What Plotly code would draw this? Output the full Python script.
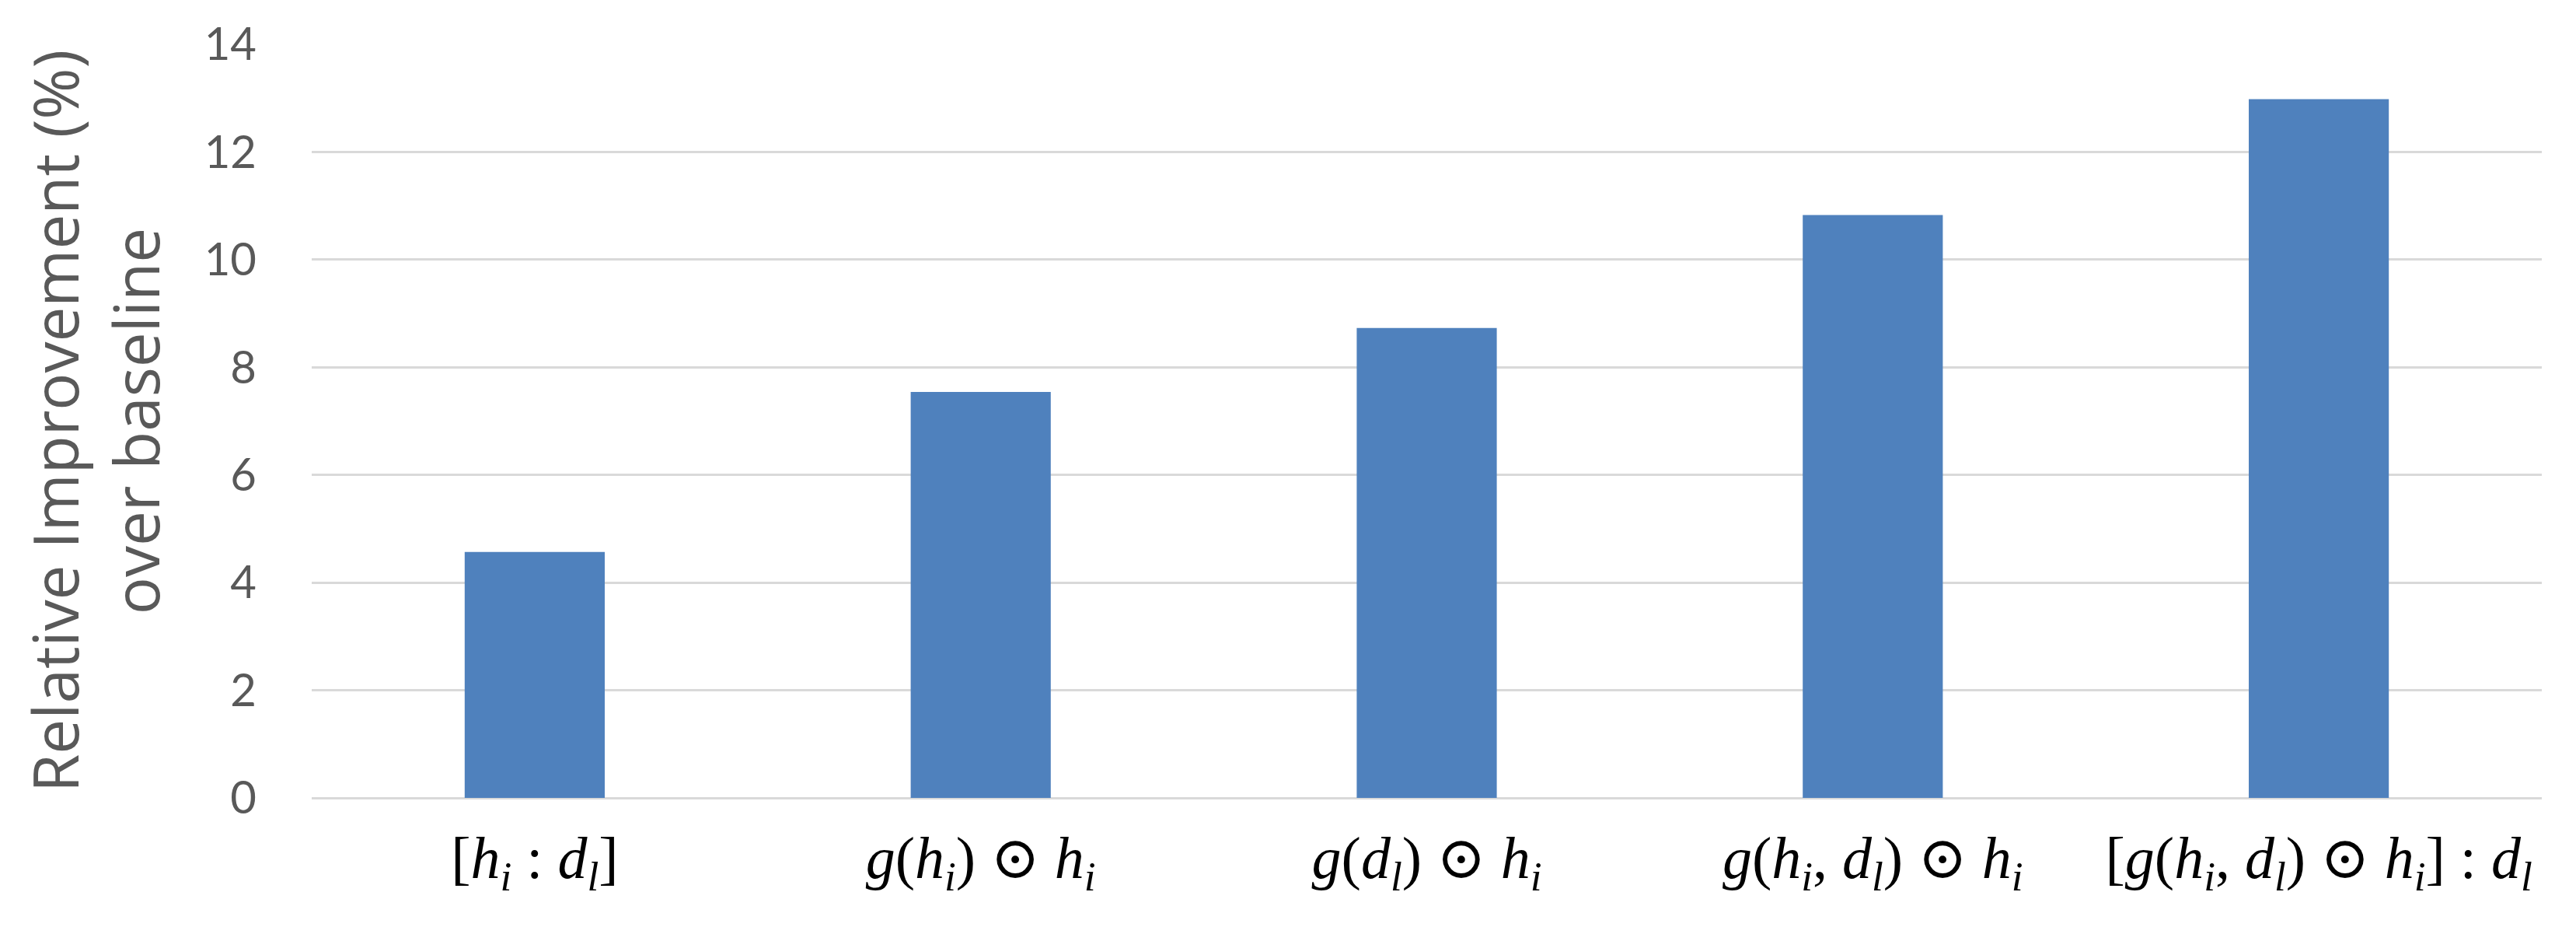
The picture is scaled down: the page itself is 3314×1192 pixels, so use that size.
import plotly.graph_objects as go

categories = [
    "[<i>h</i><sub><i>i</i></sub> : <i>d</i><sub><i>l</i></sub>]",
    "<i>g</i>(<i>h</i><sub><i>i</i></sub>) ⊙ <i>h</i><sub><i>i</i></sub>",
    "<i>g</i>(<i>d</i><sub><i>l</i></sub>) ⊙ <i>h</i><sub><i>i</i></sub>",
    "<i>g</i>(<i>h</i><sub><i>i</i></sub>, <i>d</i><sub><i>l</i></sub>) ⊙ <i>h</i><sub><i>i</i></sub>",
    "[<i>g</i>(<i>h</i><sub><i>i</i></sub>, <i>d</i><sub><i>l</i></sub>) ⊙ <i>h</i><sub><i>i</i></sub>] : <i>d</i><sub><i>l</i></sub>",
]
values = [4.57, 7.54, 8.73, 10.83, 12.98]
y_ticks = [0, 2, 4, 6, 8, 10, 12, 14]

fig = go.Figure()
fig.add_trace(go.Bar(
    x=list(range(len(categories))),
    y=values,
    marker=dict(color="#4F81BD", line=dict(width=0)),
    width=0.314,
    showlegend=False,
))

fig.update_layout(
    width=3314,
    height=1192,
    margin=dict(l=393, r=52, t=49, b=174),
    plot_bgcolor="white",
    paper_bgcolor="white",
    xaxis=dict(
        tickmode="array",
        tickvals=list(range(len(categories))),
        ticktext=categories,
        range=[-0.5, len(categories) - 0.5],
        showgrid=False,
        showline=False,
        zeroline=False,
        ticks="",
        tickfont=dict(family="Liberation Serif, DejaVu Serif, serif", size=76, color="black"),
        ticklabelstandoff=26,
    ),
    yaxis=dict(
        range=[0, 14],
        tickmode="array",
        tickvals=y_ticks,
        showgrid=True,
        gridcolor="#D9D9D9",
        gridwidth=3,
        zeroline=True,
        zerolinecolor="#D9D9D9",
        zerolinewidth=3,
        showline=False,
        ticks="",
        tickfont=dict(family="Lato, Open Sans, sans-serif", size=58, color="#595959"),
        ticklabelstandoff=70,
        title=dict(
            text="Relative Improvement (%)<br>over baseline",
            font=dict(family="Open Sans, sans-serif", size=80, color="#595959"),
            standoff=30,
        ),
        automargin=False,
    ),
)

fig.write_html("out.html")
